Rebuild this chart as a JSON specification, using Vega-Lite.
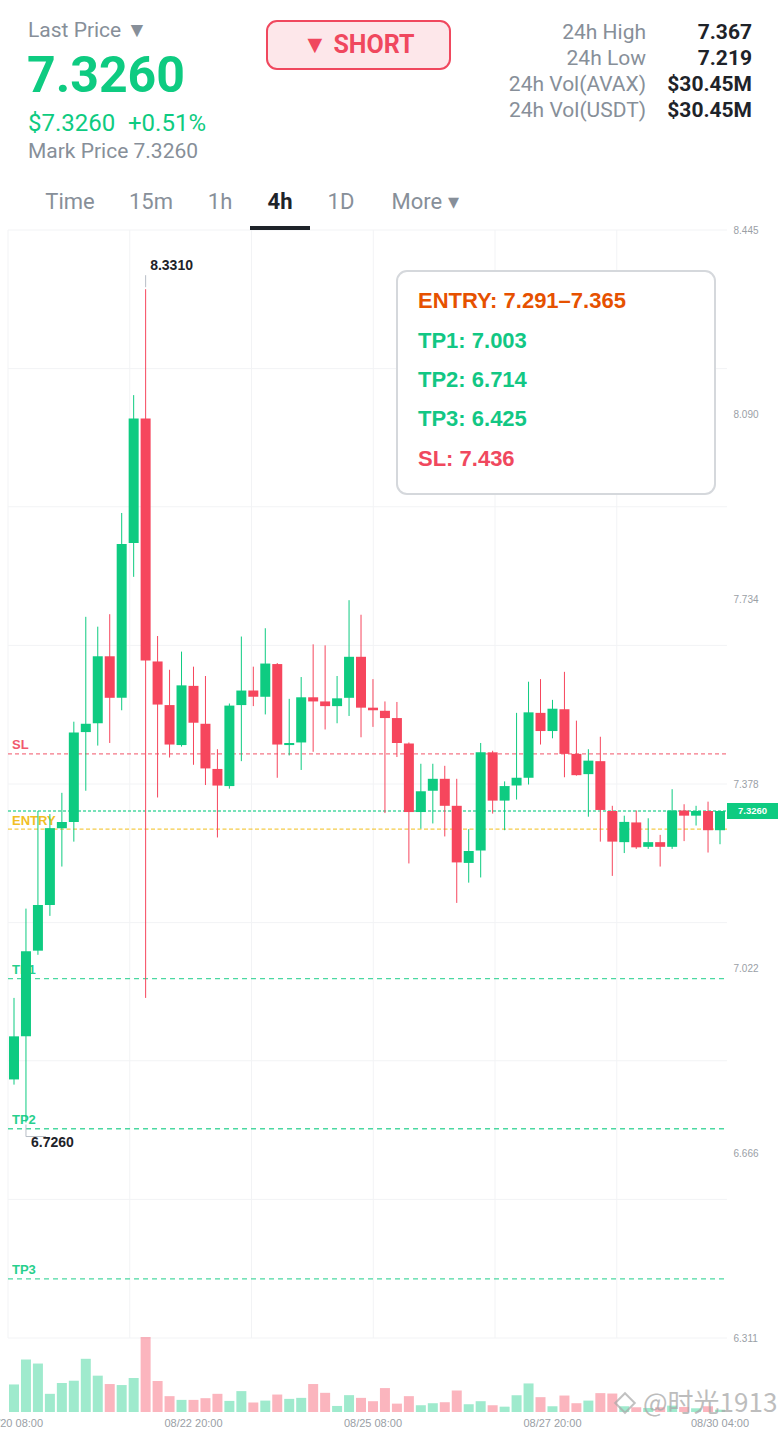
{
"$schema": "https://vega.github.io/schema/vega-lite/v6.json",
"width": 780, "height": 1430, "autosize": {"type": "none"}, "padding": 0,
"background": "#ffffff",
"config": {"view": {"stroke": null}, "text": {"font": "Roboto"}},
"datasets": {
"candles": [
{"t":"2025-08-20T08:00","o":6.809,"h":6.966,"l":6.799,"c":6.892,"v":273,"d":"up"},
{"t":"2025-08-20T12:00","o":6.892,"h":7.138,"l":6.726,"c":7.056,"v":520,"d":"up"},
{"t":"2025-08-20T16:00","o":7.057,"h":7.326,"l":7.049,"c":7.145,"v":480,"d":"up"},
{"t":"2025-08-20T20:00","o":7.145,"h":7.320,"l":7.124,"c":7.293,"v":180,"d":"up"},
{"t":"2025-08-21T00:00","o":7.293,"h":7.361,"l":7.219,"c":7.305,"v":287,"d":"up"},
{"t":"2025-08-21T04:00","o":7.305,"h":7.498,"l":7.267,"c":7.477,"v":310,"d":"up"},
{"t":"2025-08-21T08:00","o":7.478,"h":7.700,"l":7.365,"c":7.494,"v":527,"d":"up"},
{"t":"2025-08-21T12:00","o":7.495,"h":7.681,"l":7.452,"c":7.624,"v":360,"d":"up"},
{"t":"2025-08-21T16:00","o":7.624,"h":7.705,"l":7.457,"c":7.544,"v":277,"d":"down"},
{"t":"2025-08-21T20:00","o":7.544,"h":7.900,"l":7.520,"c":7.840,"v":267,"d":"up"},
{"t":"2025-08-22T00:00","o":7.842,"h":8.127,"l":7.777,"c":8.082,"v":337,"d":"up"},
{"t":"2025-08-22T04:00","o":8.082,"h":8.331,"l":6.966,"c":7.616,"v":743,"d":"down"},
{"t":"2025-08-22T08:00","o":7.614,"h":7.663,"l":7.352,"c":7.531,"v":307,"d":"down"},
{"t":"2025-08-22T12:00","o":7.530,"h":7.598,"l":7.429,"c":7.454,"v":157,"d":"down"},
{"t":"2025-08-22T16:00","o":7.453,"h":7.633,"l":7.450,"c":7.568,"v":120,"d":"up"},
{"t":"2025-08-22T20:00","o":7.567,"h":7.604,"l":7.415,"c":7.496,"v":120,"d":"down"},
{"t":"2025-08-23T00:00","o":7.494,"h":7.586,"l":7.376,"c":7.408,"v":137,"d":"down"},
{"t":"2025-08-23T04:00","o":7.407,"h":7.445,"l":7.275,"c":7.375,"v":180,"d":"down"},
{"t":"2025-08-23T08:00","o":7.374,"h":7.533,"l":7.369,"c":7.529,"v":110,"d":"up"},
{"t":"2025-08-23T12:00","o":7.530,"h":7.662,"l":7.422,"c":7.558,"v":207,"d":"up"},
{"t":"2025-08-23T16:00","o":7.558,"h":7.604,"l":7.528,"c":7.546,"v":93,"d":"down"},
{"t":"2025-08-23T20:00","o":7.546,"h":7.678,"l":7.512,"c":7.610,"v":113,"d":"up"},
{"t":"2025-08-24T00:00","o":7.609,"h":7.611,"l":7.390,"c":7.454,"v":173,"d":"down"},
{"t":"2025-08-24T04:00","o":7.453,"h":7.542,"l":7.433,"c":7.457,"v":130,"d":"up"},
{"t":"2025-08-24T08:00","o":7.458,"h":7.584,"l":7.405,"c":7.545,"v":140,"d":"up"},
{"t":"2025-08-24T12:00","o":7.545,"h":7.647,"l":7.440,"c":7.537,"v":277,"d":"down"},
{"t":"2025-08-24T16:00","o":7.537,"h":7.645,"l":7.483,"c":7.528,"v":190,"d":"down"},
{"t":"2025-08-24T20:00","o":7.528,"h":7.586,"l":7.495,"c":7.543,"v":60,"d":"up"},
{"t":"2025-08-25T00:00","o":7.544,"h":7.732,"l":7.509,"c":7.623,"v":167,"d":"up"},
{"t":"2025-08-25T04:00","o":7.623,"h":7.704,"l":7.468,"c":7.525,"v":140,"d":"down"},
{"t":"2025-08-25T08:00","o":7.525,"h":7.580,"l":7.488,"c":7.520,"v":107,"d":"down"},
{"t":"2025-08-25T12:00","o":7.519,"h":7.537,"l":7.322,"c":7.505,"v":237,"d":"down"},
{"t":"2025-08-25T16:00","o":7.505,"h":7.536,"l":7.430,"c":7.457,"v":83,"d":"down"},
{"t":"2025-08-25T20:00","o":7.456,"h":7.458,"l":7.225,"c":7.324,"v":157,"d":"down"},
{"t":"2025-08-26T00:00","o":7.324,"h":7.417,"l":7.292,"c":7.364,"v":67,"d":"up"},
{"t":"2025-08-26T04:00","o":7.365,"h":7.417,"l":7.302,"c":7.388,"v":87,"d":"up"},
{"t":"2025-08-26T08:00","o":7.388,"h":7.413,"l":7.277,"c":7.336,"v":97,"d":"down"},
{"t":"2025-08-26T12:00","o":7.336,"h":7.388,"l":7.149,"c":7.227,"v":213,"d":"down"},
{"t":"2025-08-26T16:00","o":7.226,"h":7.291,"l":7.188,"c":7.249,"v":77,"d":"up"},
{"t":"2025-08-26T20:00","o":7.250,"h":7.457,"l":7.198,"c":7.439,"v":107,"d":"up"},
{"t":"2025-08-27T00:00","o":7.439,"h":7.442,"l":7.321,"c":7.346,"v":67,"d":"down"},
{"t":"2025-08-27T04:00","o":7.346,"h":7.383,"l":7.289,"c":7.374,"v":53,"d":"up"},
{"t":"2025-08-27T08:00","o":7.375,"h":7.515,"l":7.348,"c":7.390,"v":167,"d":"up"},
{"t":"2025-08-27T12:00","o":7.390,"h":7.575,"l":7.377,"c":7.516,"v":283,"d":"up"},
{"t":"2025-08-27T16:00","o":7.515,"h":7.580,"l":7.454,"c":7.480,"v":147,"d":"down"},
{"t":"2025-08-27T20:00","o":7.480,"h":7.540,"l":7.466,"c":7.523,"v":57,"d":"up"},
{"t":"2025-08-28T00:00","o":7.522,"h":7.594,"l":7.391,"c":7.436,"v":163,"d":"down"},
{"t":"2025-08-28T04:00","o":7.436,"h":7.500,"l":7.394,"c":7.395,"v":87,"d":"down"},
{"t":"2025-08-28T08:00","o":7.397,"h":7.445,"l":7.315,"c":7.423,"v":113,"d":"up"},
{"t":"2025-08-28T12:00","o":7.422,"h":7.469,"l":7.267,"c":7.328,"v":187,"d":"down"},
{"t":"2025-08-28T16:00","o":7.326,"h":7.336,"l":7.201,"c":7.267,"v":183,"d":"down"},
{"t":"2025-08-28T20:00","o":7.266,"h":7.317,"l":7.245,"c":7.305,"v":57,"d":"up"},
{"t":"2025-08-29T00:00","o":7.304,"h":7.327,"l":7.253,"c":7.256,"v":47,"d":"down"},
{"t":"2025-08-29T04:00","o":7.257,"h":7.312,"l":7.253,"c":7.266,"v":40,"d":"up"},
{"t":"2025-08-29T08:00","o":7.266,"h":7.280,"l":7.219,"c":7.257,"v":47,"d":"down"},
{"t":"2025-08-29T12:00","o":7.257,"h":7.368,"l":7.253,"c":7.327,"v":63,"d":"up"},
{"t":"2025-08-29T16:00","o":7.327,"h":7.339,"l":7.268,"c":7.317,"v":50,"d":"down"},
{"t":"2025-08-29T20:00","o":7.317,"h":7.336,"l":7.298,"c":7.326,"v":37,"d":"up"},
{"t":"2025-08-30T00:00","o":7.326,"h":7.344,"l":7.246,"c":7.289,"v":57,"d":"down"},
{"t":"2025-08-30T04:00","o":7.289,"h":7.326,"l":7.262,"c":7.326,"v":23,"d":"up"}
],
"xticks": [{"t":"2025-08-20T08:00"},{"t":"2025-08-22T20:00"},{"t":"2025-08-25T08:00"},{"t":"2025-08-27T20:00"},{"t":"2025-08-30T04:00"}],
"vgrid": [{"t":"2025-08-20T06:00"},{"t":"2025-08-21T22:42"},{"t":"2025-08-23T15:24"},{"t":"2025-08-25T08:06"},{"t":"2025-08-27T00:48"},{"t":"2025-08-28T17:30"}],
"hgrid": [{"p":6.311},{"p":6.578},{"p":6.845},{"p":7.111},{"p":7.378},{"p":7.645},{"p":7.912},{"p":8.178},{"p":8.445}],
"levels": [
{"name":"SL","p":7.436,"kind":"sl"},
{"name":"ENTRY","p":7.291,"kind":"entry"},
{"name":"TP1","p":7.003,"kind":"tp"},
{"name":"TP2","p":6.714,"kind":"tp"},
{"name":"TP3","p":6.425,"kind":"tp"},
{"name":"LAST","p":7.326,"kind":"last"}
],
"last": [{"p":7.326,"lbl":"7.3260"}],
"extremes": [
{"t":"2025-08-22T04:00","p":8.331,"lbl":"8.3310","pos":"hi"},
{"t":"2025-08-20T12:00","p":6.726,"lbl":"6.7260","pos":"lo"}
],
"one": [{"k":1}]
},
"layer": [
{"data":{"name":"hgrid"},"mark":{"type":"rule","color":"#f2f3f5","strokeWidth":1},
 "encoding":{
  "y":{"field":"p","type":"quantitative","scale":{"domain":[6.311,8.445],"range":[1338,230],"nice":false,"zero":false,"padding":0},
   "axis":{"orient":"right","offset":-50,"values":[6.311,6.666,7.022,7.378,7.734,8.090,8.445],"format":".3f","grid":false,"domain":false,"ticks":false,"labelPadding":3,"labelFontSize":10,"labelFont":"Liberation Sans","labelColor":"#9aa0a6","labelAlign":"left","labelBaseline":"middle","title":null}},
  "x":{"datum":{"year":2025,"month":8,"date":20,"hours":6},"type":"temporal","scale":{"domain":[{"year":2025,"month":8,"date":20,"hours":8},{"year":2025,"month":8,"date":30,"hours":4}],"range":[14,720],"nice":false,"padding":0},"axis":null},
  "x2":{"datum":{"year":2025,"month":8,"date":30,"hours":6,"minutes":20}}
 }},
{"data":{"name":"vgrid"},"mark":{"type":"rule","color":"#f2f3f5","strokeWidth":1},
 "encoding":{
  "x":{"field":"t","type":"temporal","scale":{"domain":[{"year":2025,"month":8,"date":20,"hours":8},{"year":2025,"month":8,"date":30,"hours":4}],"range":[14,720],"nice":false,"padding":0},"axis":null},
  "y":{"datum":8.445,"type":"quantitative","scale":{"domain":[6.311,8.445],"range":[1338,230],"nice":false,"zero":false,"padding":0},"axis":null},
  "y2":{"datum":6.311}
 }},
{"data":{"name":"levels"},"mark":{"type":"rule","strokeWidth":1.3,"opacity":0.75},
 "encoding":{
  "y":{"field":"p","type":"quantitative","scale":{"domain":[6.311,8.445],"range":[1338,230],"nice":false,"zero":false,"padding":0},"axis":null},
  "x":{"datum":{"year":2025,"month":8,"date":20,"hours":6},"type":"temporal","scale":{"domain":[{"year":2025,"month":8,"date":20,"hours":8},{"year":2025,"month":8,"date":30,"hours":4}],"range":[14,720],"nice":false,"padding":0},"axis":null},
  "x2":{"datum":{"year":2025,"month":8,"date":30,"hours":6,"minutes":20}},
  "color":{"field":"kind","type":"nominal","scale":{"domain":["sl","entry","tp","last"],"range":["#f0485e","#f0b90b","#0ecb81","#0ecb81"]},"legend":null},
  "strokeDash":{"field":"kind","type":"nominal","scale":{"domain":["sl","entry","tp","last"],"range":[[4,3],[4,2.5],[5,4],[3,2]]},"legend":null}
 }},
{"data":{"name":"levels"},"transform":[{"filter":"datum.kind != 'last'"}],
 "mark":{"type":"text","x":12,"dy":-8.5,"align":"left","baseline":"middle","fontSize":13,"fontWeight":"bold","font":"Liberation Sans","opacity":0.9},
 "encoding":{
  "y":{"field":"p","type":"quantitative","scale":{"domain":[6.311,8.445],"range":[1338,230],"nice":false,"zero":false,"padding":0},"axis":null},
  "text":{"field":"name"},
  "color":{"field":"kind","type":"nominal","scale":{"domain":["sl","entry","tp"],"range":["#f0485e","#f0b90b","#0ecb81"]},"legend":null}
 }},
{"data":{"name":"candles"},"mark":{"type":"rule","strokeWidth":1},
 "encoding":{
  "x":{"field":"t","type":"temporal","scale":{"domain":[{"year":2025,"month":8,"date":20,"hours":8},{"year":2025,"month":8,"date":30,"hours":4}],"range":[14,720],"nice":false,"padding":0},"axis":null},
  "y":{"field":"l","type":"quantitative","scale":{"domain":[6.311,8.445],"range":[1338,230],"nice":false,"zero":false,"padding":0},"axis":null},
  "y2":{"field":"h"},
  "color":{"field":"d","type":"nominal","scale":{"domain":["up","down"],"range":["#0ecb81","#f6465d"]},"legend":null}
 }},
{"data":{"name":"candles"},"mark":{"type":"bar","width":10},
 "encoding":{
  "x":{"field":"t","type":"temporal","scale":{"domain":[{"year":2025,"month":8,"date":20,"hours":8},{"year":2025,"month":8,"date":30,"hours":4}],"range":[14,720],"nice":false,"padding":0},"axis":null},
  "y":{"field":"o","type":"quantitative","scale":{"domain":[6.311,8.445],"range":[1338,230],"nice":false,"zero":false,"padding":0},"axis":null},
  "y2":{"field":"c"},
  "color":{"field":"d","type":"nominal","scale":{"domain":["up","down"],"range":["#0ecb81","#f6465d"]},"legend":null}
 }},
{"data":{"name":"last"},"mark":{"type":"point","shape":"M-1,-0.314H1V0.314H-1Z","size":2601,"x":752.5,"filled":true,"color":"#0ecb81","opacity":1,"strokeWidth":0},
 "encoding":{"y":{"field":"p","type":"quantitative","scale":{"domain":[6.311,8.445],"range":[1338,230],"nice":false,"zero":false,"padding":0},"axis":null}}},
{"data":{"name":"last"},"mark":{"type":"text","x":752.5,"align":"center","baseline":"middle","fontSize":9.5,"fontWeight":"bold","font":"Liberation Sans","color":"#ffffff"},
 "encoding":{"y":{"field":"p","type":"quantitative","scale":{"domain":[6.311,8.445],"range":[1338,230],"nice":false,"zero":false,"padding":0},"axis":null},"text":{"field":"lbl"}}},
{"data":{"name":"extremes"},"transform":[{"filter":"datum.pos == 'hi'"}],
 "mark":{"type":"rule","color":"#b7bdc6","strokeWidth":1,"yOffset":-2,"y2Offset":-14},
 "encoding":{
  "x":{"field":"t","type":"temporal","scale":{"domain":[{"year":2025,"month":8,"date":20,"hours":8},{"year":2025,"month":8,"date":30,"hours":4}],"range":[14,720],"nice":false,"padding":0},"axis":null},
  "y":{"field":"p","type":"quantitative","scale":{"domain":[6.311,8.445],"range":[1338,230],"nice":false,"zero":false,"padding":0},"axis":null},
  "y2":{"field":"p"}
 }},
{"data":{"name":"extremes"},"transform":[{"filter":"datum.pos == 'lo'"}],
 "mark":{"type":"rule","color":"#b7bdc6","strokeWidth":1,"yOffset":2,"y2Offset":14},
 "encoding":{
  "x":{"field":"t","type":"temporal","scale":{"domain":[{"year":2025,"month":8,"date":20,"hours":8},{"year":2025,"month":8,"date":30,"hours":4}],"range":[14,720],"nice":false,"padding":0},"axis":null},
  "y":{"field":"p","type":"quantitative","scale":{"domain":[6.311,8.445],"range":[1338,230],"nice":false,"zero":false,"padding":0},"axis":null},
  "y2":{"field":"p"}
 }},
{"data":{"name":"extremes"},"transform":[{"filter":"datum.pos == 'lo'"}],
 "mark":{"type":"rule","color":"#b7bdc6","strokeWidth":1,"yOffset":14,"x2Offset":20},
 "encoding":{
  "x":{"field":"t","type":"temporal","scale":{"domain":[{"year":2025,"month":8,"date":20,"hours":8},{"year":2025,"month":8,"date":30,"hours":4}],"range":[14,720],"nice":false,"padding":0},"axis":null},
  "x2":{"field":"t"},
  "y":{"field":"p","type":"quantitative","scale":{"domain":[6.311,8.445],"range":[1338,230],"nice":false,"zero":false,"padding":0},"axis":null}
 }},
{"data":{"name":"extremes"},"transform":[{"filter":"datum.pos == 'hi'"}],
 "mark":{"type":"text","align":"left","baseline":"middle","dx":4.5,"dy":-23,"fontSize":14,"fontWeight":"bold","font":"Liberation Sans","color":"#1e2329"},
 "encoding":{
  "x":{"field":"t","type":"temporal","scale":{"domain":[{"year":2025,"month":8,"date":20,"hours":8},{"year":2025,"month":8,"date":30,"hours":4}],"range":[14,720],"nice":false,"padding":0},"axis":null},
  "y":{"field":"p","type":"quantitative","scale":{"domain":[6.311,8.445],"range":[1338,230],"nice":false,"zero":false,"padding":0},"axis":null},
  "text":{"field":"lbl"}
 }},
{"data":{"name":"extremes"},"transform":[{"filter":"datum.pos == 'lo'"}],
 "mark":{"type":"text","align":"left","baseline":"middle","dx":5,"dy":20,"fontSize":14,"fontWeight":"bold","font":"Liberation Sans","color":"#1e2329"},
 "encoding":{
  "x":{"field":"t","type":"temporal","scale":{"domain":[{"year":2025,"month":8,"date":20,"hours":8},{"year":2025,"month":8,"date":30,"hours":4}],"range":[14,720],"nice":false,"padding":0},"axis":null},
  "y":{"field":"p","type":"quantitative","scale":{"domain":[6.311,8.445],"range":[1338,230],"nice":false,"zero":false,"padding":0},"axis":null},
  "text":{"field":"lbl"}
 }},
{"data":{"name":"candles"},"mark":{"type":"bar","width":10,"opacity":0.4},
 "encoding":{
  "x":{"field":"t","type":"temporal","scale":{"domain":[{"year":2025,"month":8,"date":20,"hours":8},{"year":2025,"month":8,"date":30,"hours":4}],"range":[14,720],"nice":false,"padding":0},"axis":null},
  "y":{"field":"v","type":"quantitative","scale":{"domain":[0,743],"range":[1412,1337],"nice":false,"zero":true,"padding":0},"axis":null},
  "color":{"field":"d","type":"nominal","scale":{"domain":["up","down"],"range":["#0ecb81","#f6465d"]},"legend":null}
 }},
{"data":{"name":"xticks"},"mark":{"type":"text","y":1424,"align":"center","baseline":"middle","fontSize":11,"font":"Liberation Sans","color":"#9aa0a6"},
 "encoding":{
  "x":{"field":"t","type":"temporal","scale":{"domain":[{"year":2025,"month":8,"date":20,"hours":8},{"year":2025,"month":8,"date":30,"hours":4}],"range":[14,720],"nice":false,"padding":0},"axis":null},
  "text":{"field":"t","type":"temporal","format":"%m/%d %H:%M"}
 }},
{"data":{"name":"one"},"mark":{"type":"text","text":"Last Price ▼","x":28,"y":31,"align":"left","baseline":"middle","fontSize":21,"color":"#878f99"},"encoding":{}},
{"data":{"name":"one"},"mark":{"type":"text","text":"7.3260","x":27,"y":77,"align":"left","baseline":"middle","fontSize":50,"fontWeight":"bold","color":"#0ecb81"},"encoding":{}},
{"data":{"name":"one"},"mark":{"type":"text","text":"$7.3260","x":28,"y":124,"align":"left","baseline":"middle","fontSize":24,"color":"#0ecb81"},"encoding":{}},
{"data":{"name":"one"},"mark":{"type":"text","text":"+0.51%","x":128,"y":124,"align":"left","baseline":"middle","fontSize":24,"color":"#0ecb81"},"encoding":{}},
{"data":{"name":"one"},"mark":{"type":"text","text":"Mark Price 7.3260","x":28,"y":152,"align":"left","baseline":"middle","fontSize":21,"color":"#878f99"},"encoding":{}},
{"data":{"name":"one"},"mark":{"type":"rect","x":267,"x2":450,"y":21,"y2":69,"cornerRadius":10,"fill":"#fde7ea","stroke":"#f0485e","strokeWidth":2},"encoding":{}},
{"data":{"name":"one"},"mark":{"type":"text","text":"▼ SHORT","x":358.5,"y":45,"align":"center","baseline":"middle","fontSize":25,"fontWeight":"bold","color":"#f0485e"},"encoding":{}},
{"data":{"name":"one"},"mark":{"type":"text","text":["24h High","24h Low","24h Vol(AVAX)","24h Vol(USDT)"],"x":646,"y":38.5,"lineHeight":26,"align":"right","baseline":"alphabetic","fontSize":21,"color":"#878f99"},"encoding":{}},
{"data":{"name":"one"},"mark":{"type":"text","text":["7.367","7.219","$30.45M","$30.45M"],"x":752,"y":38.5,"lineHeight":26,"align":"right","baseline":"alphabetic","fontSize":21,"fontWeight":"bold","color":"#1e2329"},"encoding":{}},
{"data":{"name":"one"},"mark":{"type":"text","text":"Time","x":70,"y":202,"align":"center","baseline":"middle","fontSize":22,"color":"#878f99"},"encoding":{}},
{"data":{"name":"one"},"mark":{"type":"text","text":"15m","x":151,"y":202,"align":"center","baseline":"middle","fontSize":22,"color":"#878f99"},"encoding":{}},
{"data":{"name":"one"},"mark":{"type":"text","text":"1h","x":220,"y":202,"align":"center","baseline":"middle","fontSize":22,"color":"#878f99"},"encoding":{}},
{"data":{"name":"one"},"mark":{"type":"text","text":"4h","x":280,"y":202,"align":"center","baseline":"middle","fontSize":22,"fontWeight":"bold","color":"#1e2329"},"encoding":{}},
{"data":{"name":"one"},"mark":{"type":"text","text":"1D","x":341,"y":202,"align":"center","baseline":"middle","fontSize":22,"color":"#878f99"},"encoding":{}},
{"data":{"name":"one"},"mark":{"type":"text","text":"More ▾","x":425,"y":202,"align":"center","baseline":"middle","fontSize":22,"color":"#878f99"},"encoding":{}},
{"data":{"name":"one"},"mark":{"type":"rule","x":28,"x2":772,"y":229,"y2":229,"color":"#eaecef","strokeWidth":2},"encoding":{}},
{"data":{"name":"one"},"mark":{"type":"rect","x":250,"x2":310,"y":226,"y2":230,"fill":"#1e2329"},"encoding":{}},
{"data":{"name":"one"},"mark":{"type":"rect","x":397,"x2":715,"y":271,"y2":494,"cornerRadius":10,"fill":"#ffffff","stroke":"#d5d8dc","strokeWidth":2},"encoding":{}},
{"data":{"name":"one"},"mark":{"type":"text","text":"ENTRY: 7.291–7.365","x":418,"y":300.5,"align":"left","baseline":"middle","fontSize":22,"fontWeight":"bold","font":"Liberation Sans","color":"#e65100"},"encoding":{}},
{"data":{"name":"one"},"mark":{"type":"text","text":"TP1: 7.003","x":418,"y":340.5,"align":"left","baseline":"middle","fontSize":22,"fontWeight":"bold","font":"Liberation Sans","color":"#12c784"},"encoding":{}},
{"data":{"name":"one"},"mark":{"type":"text","text":"TP2: 6.714","x":418,"y":380,"align":"left","baseline":"middle","fontSize":22,"fontWeight":"bold","font":"Liberation Sans","color":"#12c784"},"encoding":{}},
{"data":{"name":"one"},"mark":{"type":"text","text":"TP3: 6.425","x":418,"y":418.7,"align":"left","baseline":"middle","fontSize":22,"fontWeight":"bold","font":"Liberation Sans","color":"#12c784"},"encoding":{}},
{"data":{"name":"one"},"mark":{"type":"text","text":"SL: 7.436","x":418,"y":458.7,"align":"left","baseline":"middle","fontSize":22,"fontWeight":"bold","font":"Liberation Sans","color":"#f0485e"},"encoding":{}},
{"data":{"name":"one"},"mark":{"type":"point","shape":"diamond","x":625,"y":1403,"size":380,"filled":false,"color":"#a8a8a8","strokeWidth":2,"opacity":0.7},"encoding":{}},
{"data":{"name":"one"},"mark":{"type":"text","text":"@时光1913","x":643,"y":1404,"align":"left","baseline":"middle","fontSize":26,"font":"Noto Sans CJK SC","color":"#a8a8a8","opacity":0.75},"encoding":{}}
],
"resolve":{"scale":{"y":"independent","color":"independent","strokeDash":"independent"}}
}
